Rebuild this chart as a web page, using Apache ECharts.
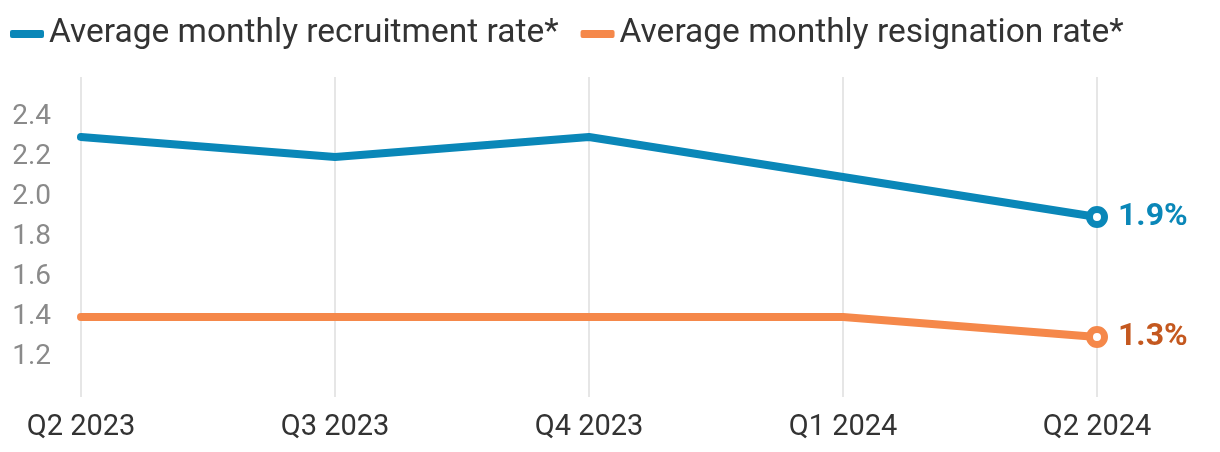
<!DOCTYPE html>
<html><head><meta charset="utf-8">
<script src="https://cdn.jsdelivr.net/npm/echarts@6/dist/echarts.min.js"></script>
<style>html,body{margin:0;padding:0;background:#fff}#c{width:1220px;height:452px}</style>
</head><body><div id="c"></div>
<script>
const categories = ['Q2 2023', 'Q3 2023', 'Q4 2023', 'Q1 2024', 'Q2 2024'];
const recruitment = [2.3, 2.2, 2.3, 2.1, 1.9];
const resignation = [1.4, 1.4, 1.4, 1.4, 1.3];
const yTicks = [1.2, 1.4, 1.6, 1.8, 2.0, 2.2, 2.4];
const seriesNames = ['Average monthly recruitment rate*', 'Average monthly resignation rate*'];

const FONT = 'Roboto';
const chart = echarts.init(document.getElementById('c'));
function mk(name, vals, color, labelColor) {
  const last = vals.length - 1;
  return {
    name, type: 'line', data: vals, color,
    lineStyle: { width: 8, color, cap: 'round', join: 'round' },
    showSymbol: true,
    symbol: (v, p) => p.dataIndex === last ? 'circle' : 'none',
    symbolSize: 15,
    itemStyle: { color: '#fff', borderColor: color, borderWidth: 7 },
    label: {
      show: true, position: 'right', distance: 10,
      formatter: p => p.dataIndex === last ? p.value.toFixed(1) + '%' : '',
      color: labelColor, fontFamily: FONT, fontWeight: 'bold', fontSize: 32
    },
    emphasis: { disabled: true },
    animation: false
  };
}
const colors = ['#0a87b8', '#f5884a'];
chart.setOption({
  animation: false,
  legend: {
    left: 5, top: 12, itemGap: 22,
    icon: 'roundRect', itemWidth: 34, itemHeight: 8,
    textStyle: { fontFamily: FONT, fontSize: 33.5, color: '#333' },
    data: seriesNames.map((n, i) => ({ name: n, itemStyle: { color: colors[i], borderWidth: 0 } }))
  },
  grid: { left: 81, right: 123, top: 77, bottom: 55, containLabel: false },
  xAxis: {
    type: 'category', boundaryGap: false, data: categories,
    axisLine: { show: false }, axisTick: { show: false },
    splitLine: { show: true, lineStyle: { color: '#e6e6e6', width: 2 } },
    axisLabel: { margin: 16, color: '#333', fontFamily: FONT, fontSize: 29 }
  },
  yAxis: {
    type: 'value', min: 1.0, max: 2.6, interval: 0.2,
    axisLine: { show: false }, axisTick: { show: false }, splitLine: { show: false },
    axisLabel: {
      margin: 30, color: '#8a8a8a', fontFamily: FONT, fontSize: 28,
      formatter: v => yTicks.some(t => Math.abs(t - v) < 1e-6) ? v.toFixed(1) : ''
    }
  },
  series: [
    mk(seriesNames[0], recruitment, colors[0], '#0a87b8'),
    mk(seriesNames[1], resignation, colors[1], '#c4581f')
  ]
});
</script></body></html>
